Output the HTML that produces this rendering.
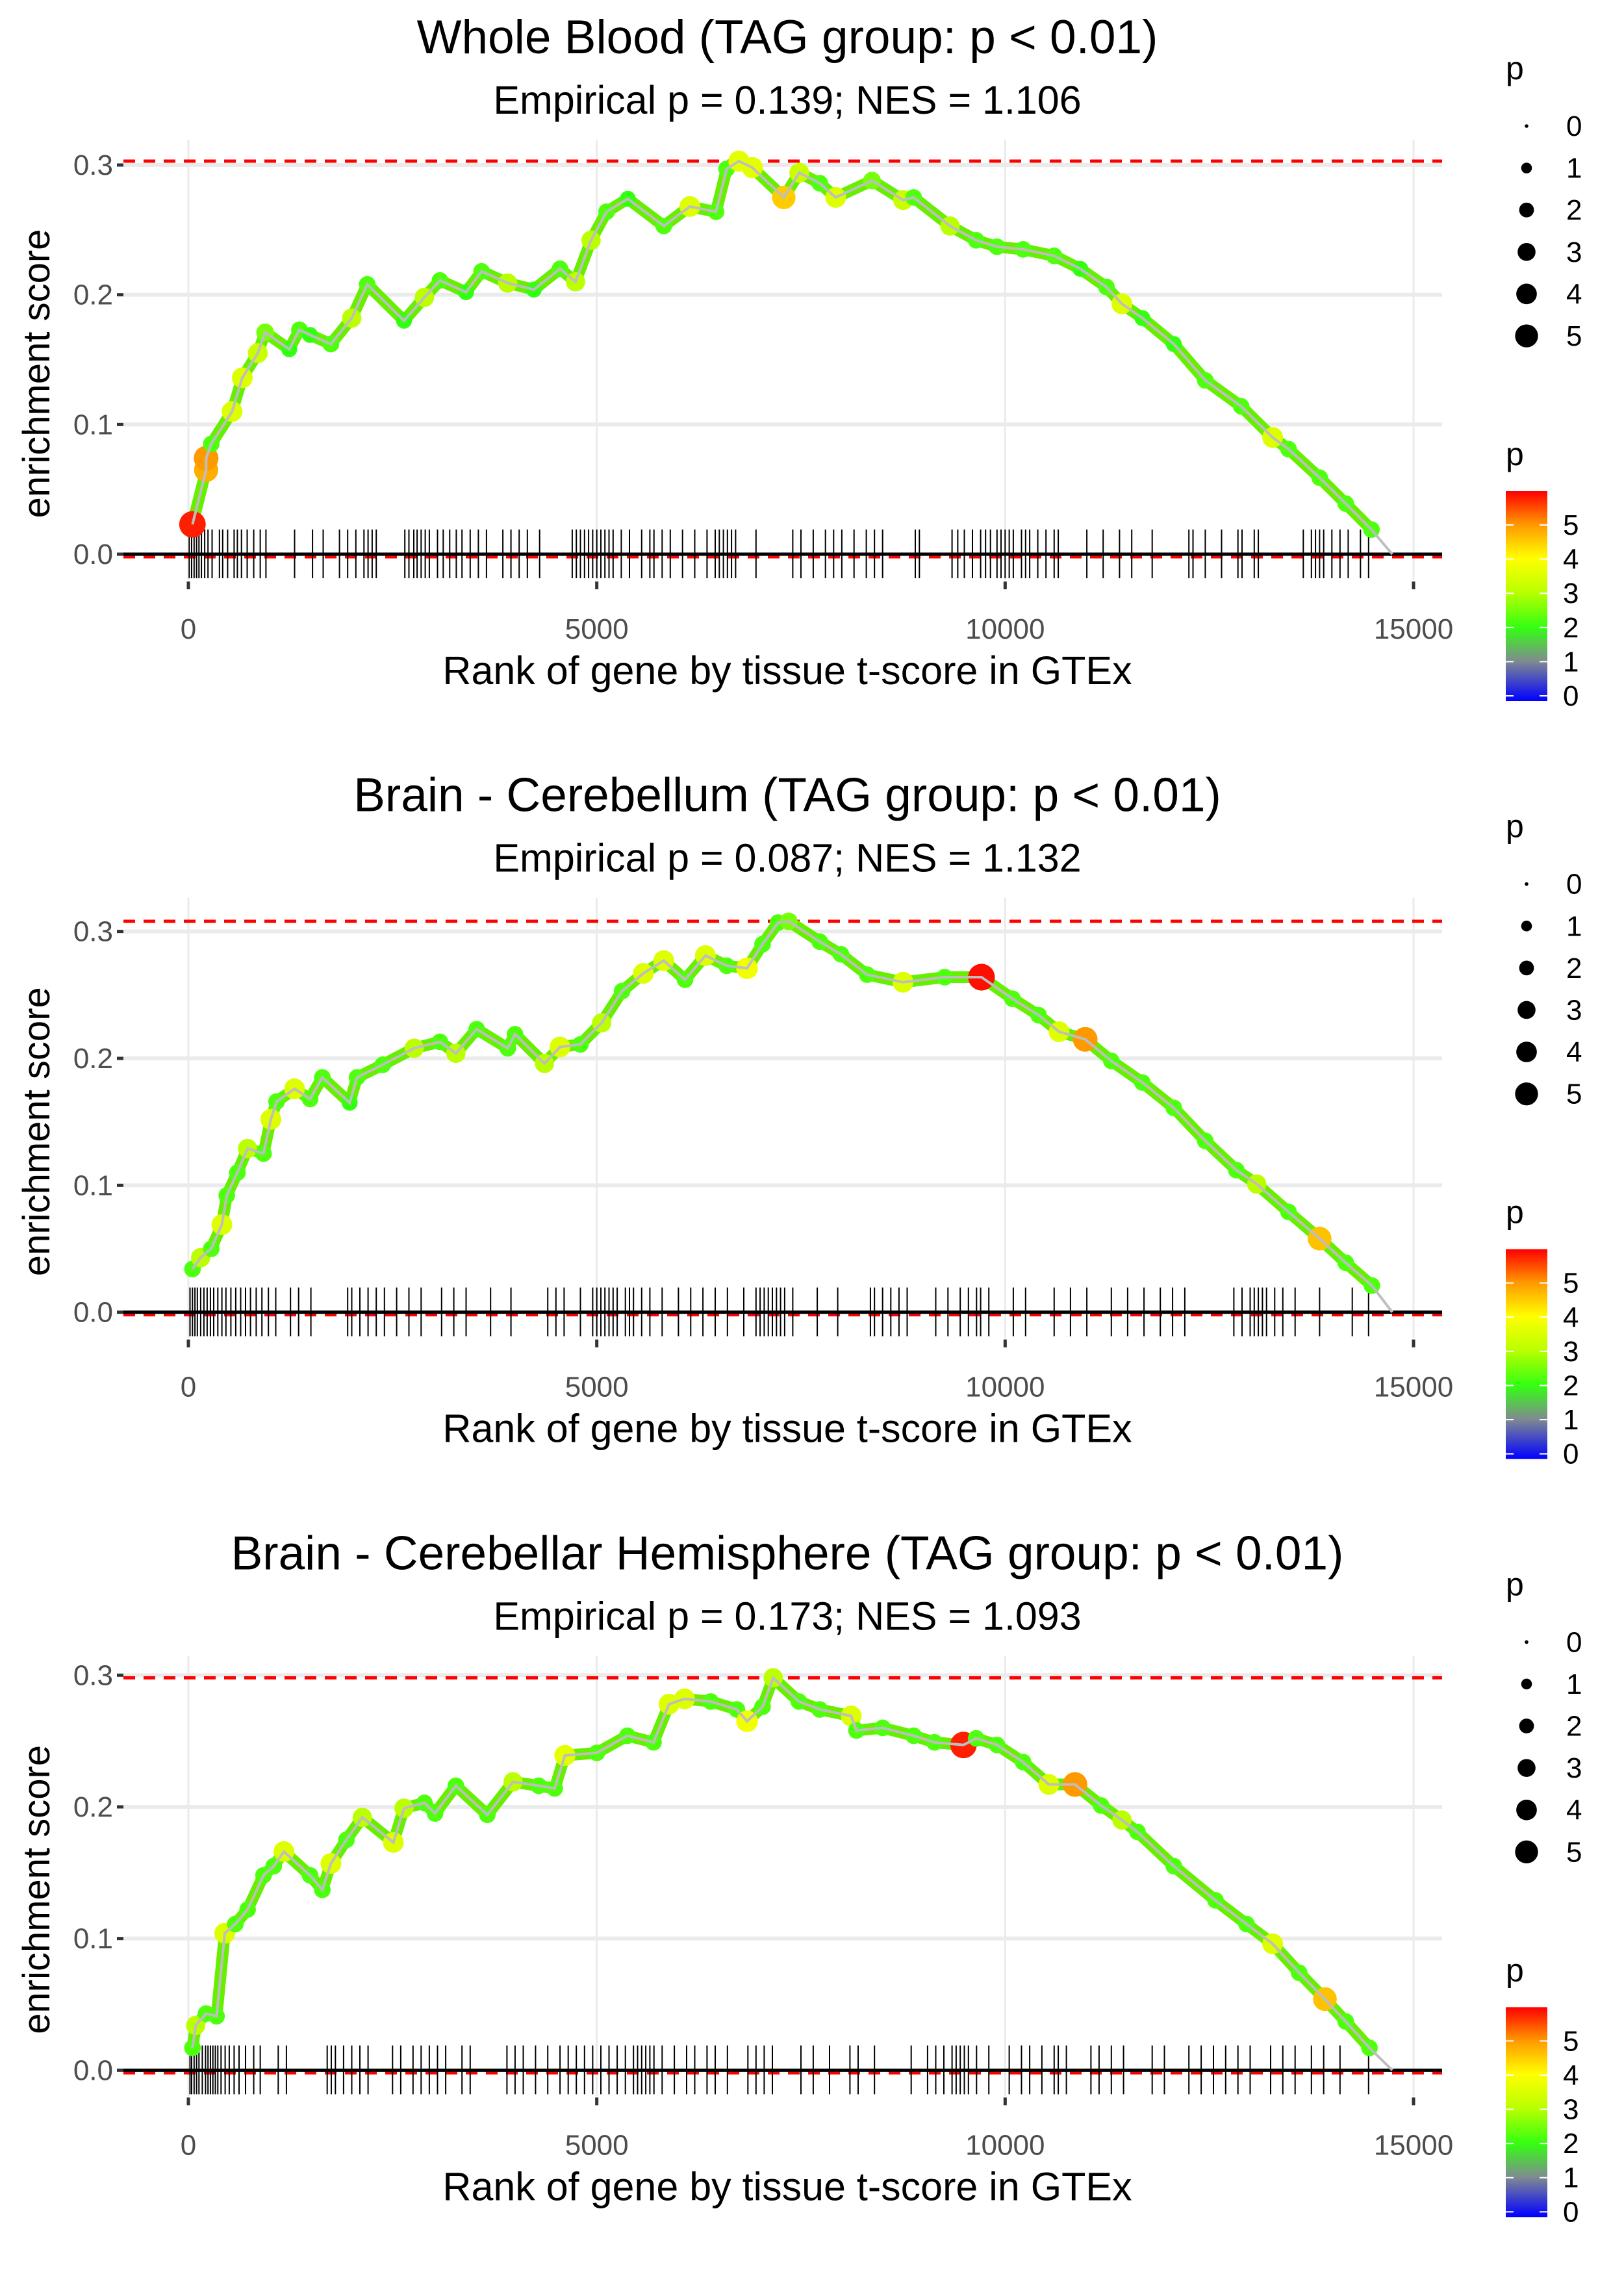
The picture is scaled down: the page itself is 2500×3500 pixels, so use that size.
<!DOCTYPE html>
<html><head><meta charset="utf-8">
<style>
html,body{margin:0;padding:0;background:#fff;}
svg{display:block;font-family:"Liberation Sans",sans-serif;}
</style></head>
<body>
<svg id="chart" width="2500" height="3500" viewBox="0 0 2500 3500" xmlns="http://www.w3.org/2000/svg">
<defs>
<linearGradient id="cbar" x1="0" y1="1" x2="0" y2="0">
<stop offset="0" stop-color="#0000ff"/>
<stop offset="0.19" stop-color="#808a90"/>
<stop offset="0.35" stop-color="#33ff11"/>
<stop offset="0.52" stop-color="#bbff00"/>
<stop offset="0.68" stop-color="#ffff00"/>
<stop offset="0.84" stop-color="#ff9900"/>
<stop offset="1" stop-color="#ff0000"/>
</linearGradient>
</defs>
</svg>
<script>
// ---- data ----
const titles = ["Whole Blood (TAG group: p < 0.01)","Brain - Cerebellum (TAG group: p < 0.01)","Brain - Cerebellar Hemisphere (TAG group: p < 0.01)"];
const subtitles = ["Empirical p = 0.139; NES = 1.106","Empirical p = 0.087; NES = 1.132","Empirical p = 0.173; NES = 1.093"];
const xTicks = [0,5000,10000,15000];
const xTickLabels = ["0","5000","10000","15000"];
const yTicks = [0,0.1,0.2,0.3];
const yTickLabels = ["0.0","0.1","0.2","0.3"];
const legendSizes = [0,1,2,3,4,5];

const ranks1 = [50,217,217,280,535,660,850,940,1235,1360,1490,1745,2000,2190,2640,2890,3080,3400,3590,3910,4230,4550,4740,4930,5120,5380,5820,6140,6460,6590,6740,6905,7290,7480,7730,7925,8370,8750,8880,9325,9645,9900,10220,10600,10920,11240,11430,11680,12065,12450,12890,13275,13470,13850,14170,14485,14740];
const es1 = [.023,.065,.074,.085,.11,.136,.155,.171,.158,.173,.169,.162,.182,.208,.18,.198,.211,.202,.218,.209,.204,.22,.21,.242,.264,.274,.253,.268,.264,.297,.303,.298,.275,.294,.286,.275,.288,.273,.275,.253,.242,.237,.235,.230,.22,.206,.193,.182,.162,.134,.114,.09,.081,.059,.039,.019,0];
const p1 = [5.8,4.8,5.0,2.2,3.5,3.5,3.2,2.5,2,2.2,2,2.2,3,2.2,2,3,2.2,2,2.2,3,2,2.2,3,3,2.2,2,2.2,3.5,2.2,2.2,3.6,3.6,4.5,3.2,2.2,3.5,2.5,3.2,2.2,3,2.2,2.2,2.2,2.2,2,2.2,3.5,2,2,2.2,2.2,3.5,2.2,2.2,2.2,2.2,0];
const rug1 = [10,40,70,100,130,160,200,240,290,380,420,480,560,600,650,720,800,880,950,1300,1520,1650,1850,1950,2050,2150,2200,2250,2300,2650,2700,2760,2800,2850,2900,2950,3050,3120,3200,3280,3350,3450,3550,3650,3850,3950,4050,4150,4300,4700,4750,4800,4850,4900,4950,5000,5050,5100,5150,5200,5300,5400,5550,5650,5700,5800,5900,6050,6200,6350,6450,6500,6550,6600,6650,6700,6950,7400,7500,7650,7800,7900,8000,8150,8300,8400,8500,8900,8950,9350,9420,9500,9600,9700,9760,9820,9900,9950,10000,10050,10100,10200,10250,10300,10400,10500,10600,10650,11000,11200,11400,11550,11800,12250,12300,12450,12650,12850,12900,13050,13100,13650,13750,13800,13850,13900,14000,14100,14200,14350,14450];

const ranks2 = [50,150,280,410,470,600,725,920,1010,1080,1300,1490,1640,1975,2065,2380,2765,3080,3275,3530,3910,4000,4360,4550,4800,5060,5310,5570,5820,6080,6330,6590,6840,7030,7220,7350,7730,7990,8310,8750,9260,9710,10090,10410,10660,10980,11300,11680,12065,12450,12830,13080,13470,13850,14170,14490,14740];
const es2 = [.034,.043,.05,.069,.092,.11,.129,.125,.152,.166,.176,.168,.185,.165,.185,.195,.208,.213,.204,.223,.208,.219,.196,.209,.211,.228,.253,.267,.277,.262,.281,.273,.271,.29,.307,.308,.292,.282,.266,.26,.264,.264,.247,.234,.221,.215,.198,.181,.161,.135,.112,.101,.079,.058,.039,.021,0];
const p2 = [2.2,3,2.2,3.5,2.2,2.2,3,2.2,3.5,2.2,3.5,2.2,2.2,2,2.2,2.2,3,2.2,3,2.2,2.2,2.2,3,3.5,2.2,3,2.2,3.5,3.5,2.2,3.5,2.2,3.8,2.2,2.2,2.5,2.2,2.2,2.2,3.5,2.2,5.9,2.2,2.2,3.5,5.0,2.2,2.2,2.2,2.2,2.2,3,2.2,4.6,2.2,2.2,0];
const rug2 = [20,50,80,110,150,190,230,270,310,360,410,460,520,580,640,700,760,830,900,980,1070,1250,1350,1500,1950,2000,2100,2200,2300,2400,2550,2700,2850,3100,3250,3400,3700,3950,4400,4500,4600,4800,4950,5000,5050,5100,5150,5200,5250,5350,5400,5450,5550,5650,5800,6000,6150,6300,6450,6600,6800,6950,7000,7050,7100,7150,7200,7250,7300,7400,7700,7950,8350,8400,8500,8600,8700,8800,9150,9300,9450,9550,9650,9700,9800,10100,10250,10600,10800,11000,11300,11500,11700,11900,12050,12200,12800,12900,13000,13050,13100,13150,13200,13300,13400,13550,13850,14250,14450];

const ranks3 = [50,90,217,345,445,575,725,920,1045,1170,1490,1640,1745,1935,2130,2510,2640,2890,3020,3275,3660,3975,4290,4485,4610,5000,5375,5695,5885,6075,6395,6715,6840,7030,7160,7475,7730,8115,8180,8500,8880,9135,9490,9645,9900,10220,10535,10855,11175,11430,11620,12065,12575,12955,13275,13600,13915,14170,14460,14740];
const es3 = [.017,.034,.043,.041,.104,.111,.122,.148,.155,.166,.148,.137,.157,.175,.192,.173,.199,.203,.195,.216,.194,.219,.216,.214,.239,.241,.254,.249,.278,.282,.28,.274,.265,.276,.298,.28,.274,.269,.258,.26,.254,.249,.247,.252,.247,.234,.217,.217,.201,.19,.181,.155,.129,.111,.096,.074,.054,.037,.017,0];
const p3 = [2.2,3,2.2,2.2,3.5,2.2,2.2,2.2,2.2,3.5,2.2,2.2,3.5,2.2,3,3.5,3,2.2,2.2,2.2,2.2,3,2.2,2.2,3.6,2.2,2.2,2.2,3.5,3.5,2.2,2.2,3.8,2.2,3,2.2,2.2,3.5,2.2,2.2,2.2,2.2,5.8,2.2,2.2,2.2,3.5,5.0,2.2,3,2.2,2.2,2.2,2.2,3.5,2.2,4.6,2.2,2.2,0];
const rug3 = [20,40,70,100,130,170,210,240,270,300,330,360,400,450,500,560,620,700,800,880,1100,1200,1700,1750,1800,1900,2000,2100,2200,2500,2600,2750,2850,2950,3050,3150,3350,3450,3900,4000,4100,4250,4400,4550,4650,4750,4850,4950,5050,5150,5250,5350,5450,5500,5550,5600,5650,5700,5800,5950,6100,6200,6350,6450,6600,6850,6950,7050,7150,7500,7650,7850,8100,8200,8400,8850,9050,9150,9250,9350,9400,9450,9500,9550,9650,9800,10050,10200,10300,10450,10600,10650,10750,11050,11150,11300,11450,11800,11950,12250,12400,12550,12700,12850,13000,13250,13400,13550,13750,13900,14100,14450];

const panels = [
  {ranks:ranks1, es:es1, p:p1, rug:rug1, top:254, name:"whole-blood"},
  {ranks:ranks2, es:es2, p:p2, rug:rug2, top:267, name:"cerebellum"},
  {ranks:ranks3, es:es3, p:p3, rug:rug3, top:245, name:"cerebellar-hemisphere"}
];

// ---- drawing ----
const NS = "http://www.w3.org/2000/svg";
const svg = document.getElementById("chart");
function mk(tag, attrs, parent){const e=document.createElementNS(NS,tag);for(const k in attrs)e.setAttribute(k,attrs[k]);parent.appendChild(e);return e;}
const stops=[[0,[0,0,255]],[1,[128,138,144]],[2,[51,255,17]],[3,[187,255,0]],[4,[255,255,0]],[5,[255,153,0]],[6,[255,0,0]]];
function pcol(v){v=Math.max(0,Math.min(6,v));for(let i=0;i<stops.length-1;i++){const a=stops[i],b=stops[i+1];if(v<=b[0]){const t=(v-a[0])/(b[0]-a[0]);const c=a[1].map((x,j)=>Math.round(x+(b[1][j]-x)*t));return `rgb(${c[0]},${c[1]},${c[2]})`;}}return "red";}
function prad(v){return Math.sqrt(9+70.4*v);}
const X0=290, X15=2176, PL=190, PR=2220, YZ=853, CX=1212;
function xs(r){return X0+(X15-X0)*r/15000;}

panels.forEach((pd,i)=>{
  const off=i*1166.67;
  const g=mk("g",{transform:`translate(0,${off})`},svg);
  
  
  function ys(v){return YZ-(YZ-pd.top)*v/0.3;}
  let t=mk("text",{x:CX,y:82,"text-anchor":"middle","font-size":73,fill:"#000"},g);t.textContent=titles[i];
  
  
  t=mk("text",{x:CX,y:175,"text-anchor":"middle","font-size":61,fill:"#000"},g);t.textContent=subtitles[i];
  
  
  // grid
  yTicks.forEach((v,k)=>{
    const l=mk("line",{x1:PL,x2:PR,y1:ys(v),y2:ys(v),stroke:"#ebebeb","stroke-width":6},g);
    
    
    mk("line",{x1:180,x2:190,y1:ys(v),y2:ys(v),stroke:"#333","stroke-width":5},g);
    const tl=mk("text",{x:174,y:ys(v)+15,"text-anchor":"end","font-size":44,fill:"#4d4d4d"},g);tl.textContent=yTickLabels[k];
    
    
  });
  xTicks.forEach((v,k)=>{
    const l=mk("line",{x1:xs(v),x2:xs(v),y1:215,y2:893,stroke:"#ebebeb","stroke-width":3},g);
    
    
    mk("line",{x1:xs(v),x2:xs(v),y1:895,y2:907,stroke:"#333","stroke-width":5},g);
    const tl=mk("text",{x:xs(v),y:983,"text-anchor":"middle","font-size":44,fill:"#4d4d4d"},g);tl.textContent=xTickLabels[k];
    
    
  });
  // axis titles
  t=mk("text",{x:CX,y:1053,"text-anchor":"middle","font-size":61,fill:"#000"},g);t.textContent="Rank of gene by tissue t-score in GTEx";
  
  
  t=mk("text",{x:0,y:0,"text-anchor":"middle","font-size":58,fill:"#000",transform:"translate(76,575) rotate(-90)"},g);t.textContent="enrichment score";
  
  
  // max / min dashed lines
  const mx=Math.max(...pd.es), mn=Math.min(...pd.es);
  let d=mk("line",{x1:PL,x2:PR,y1:ys(mx),y2:ys(mx),stroke:"#ff0000","stroke-width":5,"stroke-dasharray":"18 13"},g);
  
  
  d=mk("line",{x1:PL,x2:PR,y1:ys(mn)+4,y2:ys(mn)+4,stroke:"#ff0000","stroke-width":5,"stroke-dasharray":"18 13"},g);
  
  
  // rug
  let rp="";pd.rug.forEach(r=>{rp+=`M${xs(r).toFixed(1)} ${YZ-38}V${YZ+37}`;});
  const rug=mk("path",{d:rp,stroke:"#000","stroke-width":2,fill:"none"},g);
  
  
  // zero line
  const z=mk("line",{x1:PL,x2:PR,y1:YZ,y2:YZ,stroke:"#000","stroke-width":5},g);
  
  
  // band under points
  let bp="";for(let k=0;k<pd.ranks.length;k++){if(pd.p[k]<=0)continue;bp+=(bp?"L":"M")+xs(pd.ranks[k]).toFixed(1)+" "+ys(pd.es[k]).toFixed(1);}
  const band=mk("path",{d:bp,stroke:"#66f000","stroke-width":18,fill:"none","stroke-linejoin":"round","stroke-linecap":"round"},g);
  
  
  // points
  pd.ranks.forEach((r,k)=>{
    if(pd.p[k]<=0)return;
    const c=mk("circle",{cx:xs(r),cy:ys(pd.es[k]),r:prad(pd.p[k]),fill:pcol(pd.p[k])},g);
    
    
  });
  // running line
  let lp="";pd.ranks.forEach((r,k)=>{lp+=(k?"L":"M")+xs(r).toFixed(1)+" "+ys(pd.es[k]).toFixed(1);});
  const ln=mk("path",{d:lp,stroke:"#bebebe","stroke-width":4,fill:"none"},g);
  
  
  // legend: size
  t=mk("text",{x:2318,y:122,"font-size":50,fill:"#000"},g);t.textContent="p";
  
  
  legendSizes.forEach((v,k)=>{
    const yy=194+k*64.6;
    const c=mk("circle",{cx:2350,cy:yy,r:prad(v)*0.93,fill:"#000"},g);
    
    
    const tl=mk("text",{x:2411,y:yy+15,"font-size":44,fill:"#000"},g);tl.textContent=String(v);
    
    
  });
  // legend: colour
  t=mk("text",{x:2318,y:716,"font-size":50,fill:"#000"},g);t.textContent="p";
  
  
  const cb=mk("rect",{x:2318,y:756,width:64,height:323,fill:"url(#cbar)"},g);
  
  
  legendSizes.forEach(v=>{
    const yy=1071-v*52.6;
    mk("line",{x1:2318,x2:2330,y1:yy,y2:yy,stroke:"#fff","stroke-width":2},g);
    mk("line",{x1:2370,x2:2382,y1:yy,y2:yy,stroke:"#fff","stroke-width":2},g);
    const tl=mk("text",{x:2406,y:yy+15,"font-size":44,fill:"#000"},g);tl.textContent=String(v);
    
    
  });
});
</script>
</body></html>
